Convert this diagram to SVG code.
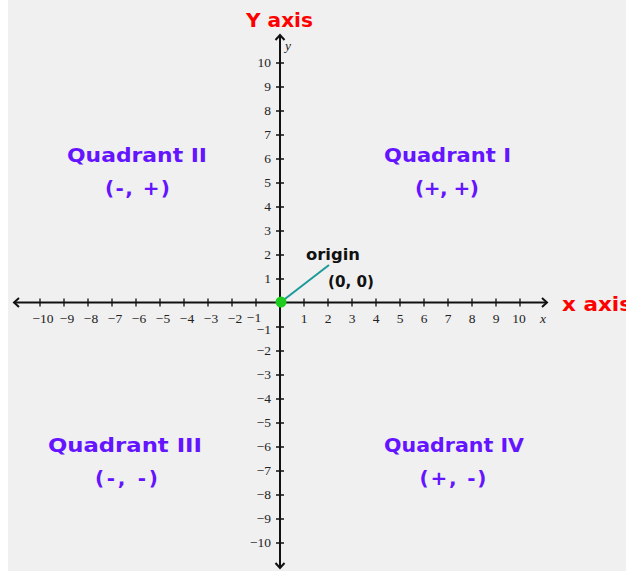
<svg xmlns="http://www.w3.org/2000/svg" width="626" height="575" viewBox="0 0 626 575">
<style>
.q{font-family:"DejaVu Sans",sans-serif;font-weight:bold;font-size:20px;fill:#6414ff;text-anchor:middle}
.ax{font-family:"DejaVu Sans",sans-serif;font-weight:bold;font-size:19px;fill:#ff0000}
.t{font-family:"Liberation Serif",serif;font-size:13.5px;fill:#222}
.tx{text-anchor:middle}
.ty{text-anchor:end}
.lbl{font-family:"DejaVu Sans",sans-serif;font-weight:bold;font-size:15px;fill:#111}
.axis{stroke:#111;stroke-width:2;fill:none}
.tick{stroke:#111;stroke-width:1.3}
</style>
<rect x="0" y="0" width="626" height="575" fill="#ffffff"/>
<rect x="8" y="0" width="618" height="571" fill="#f0f0f0"/>

<g id="connectors">
<path class="axis" d="M14 302.5 H547 M280 35 V568"/>
<path class="axis" d="M19 298 L14 302.5 L19 307 M542 298 L547 302.5 L542 307 M275.5 40 L280 35 L284.5 40 M275.5 563 L280 568 L284.5 563"/>
<g class="tick">
<path d="M40 298.5v8M64 298.5v8M88 298.5v8M112 298.5v8M136 298.5v8M160 298.5v8M184 298.5v8M208 298.5v8M232 298.5v8M256 298.5v8M304 298.5v8M328 298.5v8M352 298.5v8M376 298.5v8M400 298.5v8M424 298.5v8M448 298.5v8M472 298.5v8M496 298.5v8M520 298.5v8"/>
<path d="M276 63h8M276 87h8M276 111h8M276 135h8M276 159h8M276 183h8M276 207h8M276 231h8M276 255h8M276 279h8M276 327h8M276 351h8M276 375h8M276 399h8M276 423h8M276 447h8M276 471h8M276 495h8M276 519h8M276 543h8"/>
</g>
<line x1="281" y1="302" x2="329" y2="265" stroke="#1a9a9a" stroke-width="2"/>
</g>

<g id="x-labels" class="t tx">
<text x="43" y="323">−10</text><text x="67" y="323">−9</text><text x="91" y="323">−8</text><text x="115" y="323">−7</text><text x="139" y="323">−6</text><text x="163" y="323">−5</text><text x="187" y="323">−4</text><text x="211" y="323">−3</text><text x="235" y="323">−2</text><text x="254" y="322">−1</text>
<text x="304" y="323">1</text><text x="328" y="323">2</text><text x="352" y="323">3</text><text x="376" y="323">4</text><text x="400" y="323">5</text><text x="424" y="323">6</text><text x="448" y="323">7</text><text x="472" y="323">8</text><text x="496" y="323">9</text><text x="519" y="323">10</text>
<text x="543" y="323" font-style="italic">x</text>
</g>
<g id="y-labels" class="t ty">
<text x="271" y="67">10</text><text x="271" y="91">9</text><text x="271" y="115">8</text><text x="271" y="139">7</text><text x="271" y="163">6</text><text x="271" y="187">5</text><text x="271" y="211">4</text><text x="271" y="235">3</text><text x="271" y="259">2</text><text x="271" y="283">1</text>
<text x="271" y="334">−1</text><text x="271" y="355">−2</text><text x="271" y="379">−3</text><text x="271" y="403">−4</text><text x="271" y="427">−5</text><text x="271" y="451">−6</text><text x="271" y="475">−7</text><text x="271" y="499">−8</text><text x="271" y="523">−9</text><text x="271" y="547">−10</text>
<text x="285" y="50" text-anchor="start" font-style="italic">y</text>
</g>

<g id="y-axis-title"><text class="ax" x="246" y="27" textLength="67" lengthAdjust="spacingAndGlyphs">Y axis</text></g>
<g id="x-axis-title"><text class="ax" x="562" y="311" textLength="70" lengthAdjust="spacingAndGlyphs">x axis</text></g>

<g id="origin">
<circle cx="281" cy="302" r="5.5" fill="#1ecc1e"/>
<text class="lbl" x="306" y="260" textLength="54" lengthAdjust="spacingAndGlyphs">origin</text>
<text class="lbl" x="328" y="287" textLength="46" lengthAdjust="spacingAndGlyphs">(0, 0)</text>
</g>

<g id="quadrant-1"><text class="q" x="447.5" y="162" textLength="127" lengthAdjust="spacingAndGlyphs">Quadrant I</text><text class="q" x="447" y="195" textLength="64" lengthAdjust="spacing">(+, +)</text></g>
<g id="quadrant-2"><text class="q" x="137" y="162" textLength="140" lengthAdjust="spacingAndGlyphs">Quadrant II</text><text class="q" x="137.5" y="195" textLength="65" lengthAdjust="spacing">(-, +)</text></g>
<g id="quadrant-3"><text class="q" x="125" y="452" textLength="154" lengthAdjust="spacingAndGlyphs">Quadrant III</text><text class="q" x="126.5" y="485" textLength="63" lengthAdjust="spacing">(-, -)</text></g>
<g id="quadrant-4"><text class="q" x="454" y="452" textLength="140" lengthAdjust="spacingAndGlyphs">Quadrant IV</text><text class="q" x="453" y="485" textLength="67" lengthAdjust="spacing">(+, -)</text></g>
</svg>
